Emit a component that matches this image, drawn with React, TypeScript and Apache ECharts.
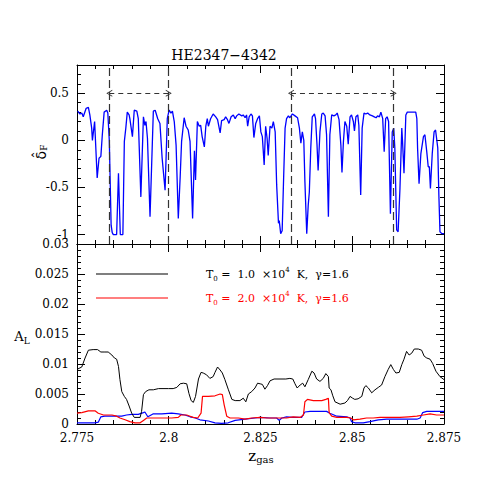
import React, { useEffect, useRef } from 'react';
import * as echarts from 'echarts';

const X_MIN = 2.775;
const X_MAX = 2.875;
const X_INTERVAL = 0.025;

const FLUX_MIN = -1.1;
const FLUX_MAX = 0.8;
const FLUX_TICKS = [-1, -0.5, 0, 0.5];

const AL_MIN = 0;
const AL_MAX = 0.03;
const AL_INTERVAL = 0.005;

// window edges (dashed verticals) and arrow spans
const windowEdges = [2.7838, 2.8, 2.8333, 2.8613];
const arrowSpans: [number, number][] = [[2.7838, 2.8], [2.8333, 2.8613]];
const arrowLevel = 0.5;

const title = 'HE2347−4342';
const legendLabels = ['1.0', '2.0'];

// normalised flux, blue curve (z, delta_F)
const fluxPoints: [number, number][] = [
  [2.7752,0.31],[2.7758,0.28],[2.7763,0.29],[2.7767,0.25],[2.7775,0.34],[2.7781,0.35],[2.7785,0.27],[2.7790,0.13],[2.7792,0.0],[2.7798,0.2],
  [2.7805,-0.40],[2.7810,-0.19],[2.7815,-0.17],[2.7819,0.06],[2.7824,0.30],[2.7831,0.32],[2.7834,0.29],[2.7838,0.0],[2.7843,-0.90],[2.7846,-0.98],
  [2.7849,-1.0],[2.7858,-1.0],[2.7863,-0.35],[2.7868,-1.0],[2.7875,-1.0],[2.7879,-0.01],[2.7883,0.13],[2.7887,0.30],[2.7892,0.27],[2.7894,0.23],
  [2.7901,0.04],[2.7906,0.32],[2.7913,0.31],[2.7917,0.23],[2.7924,-0.60],[2.7931,0.25],[2.7935,0.16],[2.7938,0.20],[2.7942,0.02],[2.7949,-0.81],
  [2.7958,0.31],[2.7963,0.32],[2.7970,0.23],[2.7976,0.18],[2.7982,-0.19],[2.7990,-0.53],[2.7996,0.23],[2.8001,0.32],[2.8006,0.29],[2.8010,0.31],
  [2.8015,0.20],[2.8020,-0.05],[2.8026,-0.83],[2.8031,-0.40],[2.8035,-0.01],[2.8042,0.24],[2.8047,0.15],[2.8053,0.11],[2.8058,-0.01],[2.8065,-0.83],
  [2.8070,-0.11],[2.8073,-0.42],[2.8078,0.20],[2.8083,0.15],[2.8087,0.16],[2.8091,0.04],[2.8097,-0.07],[2.8101,0.15],[2.8105,0.23],[2.8108,0.15],
  [2.8114,0.23],[2.8121,0.28],[2.8128,0.25],[2.8133,0.22],[2.8140,0.08],[2.8144,0.21],[2.8151,0.22],[2.8155,0.25],[2.8160,0.22],[2.8164,0.18],
  [2.8170,0.25],[2.8176,0.27],[2.8181,0.23],[2.8185,0.26],[2.8191,0.28],[2.8199,0.26],[2.8203,0.27],[2.8208,0.24],[2.8212,0.27],[2.8215,0.15],
  [2.8219,0.25],[2.8224,0.28],[2.8228,0.26],[2.8232,0.03],[2.8237,0.18],[2.8242,0.23],[2.8247,0.26],[2.8251,0.09],[2.8255,0.04],[2.8260,-0.26],
  [2.8264,0.15],[2.8268,0.02],[2.8271,-0.16],[2.8276,0.15],[2.8281,0.13],[2.8285,0.20],[2.8290,0.09],[2.8294,-0.47],[2.8299,-0.88],[2.8301,-0.85],
  [2.8305,-0.99],[2.8309,-0.96],[2.8313,-0.40],[2.8317,0.13],[2.8321,0.23],[2.8326,0.26],[2.8330,0.24],[2.8337,0.28],[2.8344,0.26],[2.8351,0.24],
  [2.8356,0.13],[2.8360,-0.03],[2.8364,0.09],[2.8368,0.0],[2.8371,-0.44],[2.8376,-0.99],[2.8380,-0.69],[2.8383,-0.55],[2.8387,-0.08],[2.8391,0.25],
  [2.8397,0.28],[2.8400,0.23],[2.8404,-0.05],[2.8407,-0.32],[2.8412,0.09],[2.8417,0.28],[2.8421,0.29],[2.8426,0.26],[2.8430,0.06],[2.8435,-0.81],
  [2.8439,0.06],[2.8444,0.27],[2.8450,0.26],[2.8455,0.27],[2.8459,0.29],[2.8464,0.22],[2.8469,-0.05],[2.8472,-0.34],[2.8476,-0.01],[2.8480,0.20],
  [2.8485,0.15],[2.8489,-0.04],[2.8494,0.25],[2.8498,0.27],[2.8503,0.20],[2.8506,0.10],[2.8510,0.25],[2.8515,0.27],[2.8518,0.16],[2.8523,-0.58],
  [2.8527,0.13],[2.8532,0.29],[2.8537,0.28],[2.8542,0.29],[2.8548,0.27],[2.8555,0.26],[2.8560,0.25],[2.8565,0.24],[2.8569,0.26],[2.8574,0.25],
  [2.8578,0.30],[2.8583,0.23],[2.8587,-0.12],[2.8591,0.23],[2.8595,0.25],[2.8599,0.20],[2.8604,-0.78],[2.8609,0.09],[2.8613,0.13],[2.8616,-0.08],
  [2.8621,-0.95],[2.8625,-0.97],[2.8630,-0.51],[2.8635,0.13],[2.8637,-0.01],[2.8641,-0.35],[2.8646,0.27],[2.8650,0.30],[2.8657,0.30],[2.8666,0.30],
  [2.8673,0.30],[2.8676,0.23],[2.8678,-0.08],[2.8682,-0.46],[2.8687,-0.14],[2.8694,0.04],[2.8698,0.06],[2.8703,-0.12],[2.8707,-0.28],[2.8710,-0.28],
  [2.8713,-0.51],[2.8718,-0.14],[2.8723,0.09],[2.8727,0.11],[2.8733,-0.08],[2.8736,-0.58],[2.8739,-0.97],[2.8744,-0.99],[2.8750,-0.99],
];

// A_L for T0 = 1.0e4 K (black)
const alCold: [number, number][] = [
  [2.775,0.0091],[2.7763,0.0095],[2.7772,0.0110],[2.7781,0.0123],[2.7794,0.0124],[2.7806,0.0124],[2.7815,0.0120],[2.7826,0.0120],[2.7835,0.0120],
  [2.7845,0.0115],[2.7852,0.0110],[2.7858,0.0108],[2.7863,0.0096],[2.7867,0.0074],[2.7872,0.0054],[2.7879,0.0046],[2.7885,0.0041],[2.7892,0.0030],
  [2.7899,0.0018],[2.7906,0.0011],[2.7922,0.0011],[2.7926,0.0021],[2.7931,0.0049],[2.7937,0.0054],[2.7946,0.0057],[2.7958,0.0057],[2.7972,0.0059],
  [2.7999,0.0059],[2.8012,0.0059],[2.8022,0.0061],[2.8031,0.0067],[2.8040,0.0068],[2.8049,0.0067],[2.8055,0.0051],[2.8061,0.0039],[2.8067,0.0036],
  [2.8073,0.0046],[2.8081,0.0075],[2.8088,0.0086],[2.8094,0.0085],[2.8103,0.0082],[2.8112,0.0076],[2.8121,0.0079],[2.8126,0.0086],[2.8133,0.0095],
  [2.8140,0.0090],[2.8146,0.0085],[2.8153,0.0074],[2.8162,0.0058],[2.8172,0.0041],[2.8181,0.0039],[2.8194,0.0039],[2.8203,0.0043],[2.8210,0.0037],
  [2.8217,0.0050],[2.8226,0.0054],[2.8235,0.0060],[2.8242,0.0068],[2.8249,0.0067],[2.8255,0.0066],[2.8262,0.0058],[2.8269,0.0064],[2.8276,0.0072],
  [2.8287,0.0075],[2.8319,0.0075],[2.8330,0.0076],[2.8338,0.0075],[2.8344,0.0067],[2.8350,0.0060],[2.8358,0.0065],[2.8365,0.0068],[2.8371,0.0062],
  [2.8380,0.0074],[2.8390,0.0088],[2.8396,0.0085],[2.8403,0.0075],[2.8412,0.0071],[2.8421,0.0076],[2.8428,0.0084],[2.8435,0.0079],[2.8437,0.0060],
  [2.8442,0.0057],[2.8447,0.0047],[2.8453,0.0037],[2.8467,0.0033],[2.8480,0.0035],[2.8487,0.0039],[2.8494,0.0046],[2.8501,0.0043],[2.8507,0.0041],
  [2.8516,0.0042],[2.8526,0.0046],[2.8532,0.0060],[2.8537,0.0064],[2.8544,0.0060],[2.8553,0.0052],[2.8562,0.0057],[2.8571,0.0061],[2.8580,0.0065],
  [2.8589,0.0079],[2.8598,0.0091],[2.8605,0.0099],[2.8612,0.0091],[2.8619,0.0085],[2.8628,0.0086],[2.8635,0.0099],[2.8641,0.0108],[2.8648,0.0121],
  [2.8655,0.0115],[2.8662,0.0118],[2.8669,0.0125],[2.8680,0.0125],[2.8689,0.0123],[2.8696,0.0113],[2.8703,0.0110],[2.8712,0.0108],[2.8719,0.0101],
  [2.8728,0.0088],[2.8739,0.0079],[2.8750,0.0074],
];

// A_L for T0 = 2.0e4 K (red)
const alHot: [number, number][] = [
  [2.775,0.0018],[2.7763,0.0019],[2.7781,0.0022],[2.7799,0.0022],[2.7808,0.0018],[2.7822,0.0015],[2.7845,0.0015],[2.7858,0.0013],[2.7867,0.0010],
  [2.7881,0.0007],[2.7894,0.0004],[2.7908,0.0002],[2.7922,0.0002],[2.7931,0.0006],[2.7940,0.0010],[2.8008,0.0010],[2.8026,0.0011],[2.8033,0.0015],
  [2.8049,0.0015],[2.8058,0.0013],[2.8067,0.0011],[2.8079,0.0010],[2.8088,0.0018],[2.8092,0.0046],[2.8108,0.0046],[2.8126,0.0047],[2.8140,0.0050],
  [2.8146,0.0049],[2.8151,0.0032],[2.8158,0.0013],[2.8167,0.0010],[2.8190,0.0010],[2.8208,0.0008],[2.8226,0.0010],[2.8249,0.0011],[2.8267,0.0010],
  [2.8321,0.0010],[2.8339,0.0012],[2.8358,0.0011],[2.8367,0.0015],[2.8371,0.0037],[2.8378,0.0041],[2.8394,0.0039],[2.8417,0.0039],[2.8428,0.0041],
  [2.8435,0.0043],[2.8437,0.0019],[2.8444,0.0013],[2.8458,0.0011],[2.8485,0.0011],[2.8496,0.0010],[2.8503,0.0007],[2.8521,0.0008],[2.8539,0.0010],
  [2.8557,0.0010],[2.8576,0.0011],[2.8630,0.0011],[2.8653,0.0012],[2.8676,0.0013],[2.8694,0.0015],[2.8712,0.0017],[2.8730,0.0015],[2.8750,0.0015],
];

// third (blue) A_L curve
const alBlue: [number, number][] = [
  [2.775,0.0002],[2.7799,0.0002],[2.7808,0.0003],[2.7815,0.0012],[2.7826,0.0013],[2.7872,0.0013],[2.7885,0.0015],[2.7899,0.0016],[2.7917,0.0016],
  [2.7931,0.0019],[2.7935,0.0020],[2.7943,0.0012],[2.7952,0.0015],[2.7958,0.0017],[2.7981,0.0017],[2.8008,0.0018],[2.8026,0.0017],[2.8044,0.0015],
  [2.8058,0.0012],[2.8072,0.0010],[2.8085,0.0007],[2.8108,0.0005],[2.8126,0.0002],[2.8144,0.0001],[2.8162,0.0002],[2.8181,0.0006],[2.8208,0.0008],
  [2.8235,0.0010],[2.8249,0.0011],[2.8276,0.0010],[2.8294,0.0010],[2.8301,0.0006],[2.8308,0.0010],[2.8321,0.0012],[2.8339,0.0011],[2.8362,0.0011],
  [2.8371,0.0020],[2.8385,0.0021],[2.8430,0.0021],[2.8439,0.0018],[2.8458,0.0013],[2.8485,0.0012],[2.8494,0.0010],[2.8498,0.0004],[2.8507,0.0002],
  [2.8530,0.0002],[2.8548,0.0004],[2.8571,0.0007],[2.8594,0.0008],[2.8676,0.0008],[2.8685,0.0010],[2.8692,0.0019],[2.8703,0.0021],[2.8750,0.0021],
];

const FONT = '"DejaVu Serif", serif';
const CHEVRON = 'path://M0,10 L5,0 L10,10 L8.6,10 L5,2.6 L1.4,10 Z';

export default function App() {
  const ref = useRef<HTMLDivElement>(null);

  useEffect(() => {
    if (!ref.current) return;
    const chart = echarts.init(ref.current, null, { renderer: 'svg' });

    const axisLine = { show: true, onZero: false, lineStyle: { color: '#000', width: 1 } };
    const tickStyle = { color: '#000', width: 1 };
    const labelStyle = { color: '#000', fontFamily: FONT, fontSize: 12 };

    const xAxis = (grid: number, pos: string, labels: boolean) => ({
      type: 'value', gridIndex: grid, position: pos, min: X_MIN, max: X_MAX, interval: X_INTERVAL,
      axisLine, splitLine: { show: false },
      axisTick: { show: true, inside: true, length: 8, lineStyle: tickStyle },
      minorTick: { show: true, splitNumber: 5, length: 4, lineStyle: tickStyle },
      axisLabel: labels ? { show: true, margin: 8, ...labelStyle } : { show: false },
    });

    const fluxMinor = (pos: string, labels: boolean) => ({
      type: 'value', gridIndex: 0, position: pos, min: FLUX_MIN, max: FLUX_MAX, interval: 0.1,
      axisLine, splitLine: { show: false },
      axisTick: { show: true, inside: true, length: 4, lineStyle: tickStyle },
      axisLabel: labels ? {
        show: true, margin: 8, ...labelStyle,
        formatter: (v: number) => {
          const h = v * 2;
          return Math.abs(h - Math.round(h)) < 1e-6 ? String(Math.round(h) / 2) : '';
        },
      } : { show: false },
    });
    const fluxMajor = (pos: string) => ({
      type: 'value', gridIndex: 0, position: pos, min: FLUX_MIN, max: FLUX_MAX,
      axisLine: { show: false }, splitLine: { show: false },
      axisTick: { show: true, inside: true, length: 8, lineStyle: tickStyle, customValues: FLUX_TICKS },
      axisLabel: { show: false },
    });
    const alAxis = (pos: string, labels: boolean) => ({
      type: 'value', gridIndex: 1, position: pos, min: AL_MIN, max: AL_MAX, interval: AL_INTERVAL,
      axisLine, splitLine: { show: false },
      axisTick: { show: true, inside: true, length: 8, lineStyle: tickStyle },
      minorTick: { show: true, splitNumber: 5, length: 4, lineStyle: tickStyle },
      axisLabel: labels ? { show: true, margin: 8, ...labelStyle } : { show: false },
    });

    const legendRich = {
      m: { fontFamily: FONT, fontSize: 11, lineHeight: 16, verticalAlign: 'middle' },
      s: { fontFamily: FONT, fontSize: 7, lineHeight: 7, verticalAlign: 'bottom' },
      p: { fontFamily: FONT, fontSize: 7, lineHeight: 7, verticalAlign: 'top' },
    };
    const legendText = (t: string) => `{m|T}{s|0}{m| =  ${t}  ×10}{p|4}{m|  K,  γ=1.6}`;

    chart.setOption({
      animation: false,
      backgroundColor: '#fff',
      grid: [
        { left: 77, top: 65, width: 367, height: 179 },
        { left: 77, top: 244, width: 367, height: 180 },
      ],
      xAxis: [xAxis(0, 'bottom', false), xAxis(0, 'top', false), xAxis(1, 'bottom', true), xAxis(1, 'top', false)],
      yAxis: [
        fluxMinor('left', true), fluxMajor('left'), fluxMinor('right', false), fluxMajor('right'),
        alAxis('left', true), alAxis('right', false),
      ],
      series: [
        {
          type: 'line', name: 'flux', xAxisIndex: 0, yAxisIndex: 0, data: fluxPoints,
          showSymbol: false, lineStyle: { color: '#0000ff', width: 1.3 }, z: 3,
          markLine: {
            silent: true, precision: 5, symbol: ['none', 'none'], label: { show: false },
            lineStyle: { color: '#333', type: [8, 4], width: 1.2 },
            data: [
              ...windowEdges.map((v) => ({ xAxis: v })),
              ...arrowSpans.map(([a, b]) => [
                { coord: [a, arrowLevel], symbol: CHEVRON, symbolSize: [7, 6], lineStyle: { type: [5, 4], width: 1 } },
                { coord: [b, arrowLevel], symbol: CHEVRON, symbolSize: [7, 6] },
              ]),
            ],
          },
        },
        {
          type: 'line', name: 'blue', xAxisIndex: 2, yAxisIndex: 4, data: alBlue,
          showSymbol: false, lineStyle: { color: '#0000ff', width: 1.2 },
        },
        {
          type: 'line', name: 'T0 = 2.0', xAxisIndex: 2, yAxisIndex: 4, data: alHot,
          showSymbol: false, lineStyle: { color: '#ff0000', width: 1.2 },
        },
        {
          type: 'line', name: 'T0 = 1.0', xAxisIndex: 2, yAxisIndex: 4, data: alCold,
          showSymbol: false, lineStyle: { color: '#000', width: 1 },
        },
      ],
      graphic: [
        { type: 'text', x: 224, y: 55, style: { text: title, font: `14px ${FONT}`, fill: '#000', align: 'center', verticalAlign: 'middle' } },
        { type: 'line', shape: { x1: 96, y1: 274, x2: 168, y2: 274 }, style: { stroke: '#000', lineWidth: 1.2 } },
        { type: 'line', shape: { x1: 96, y1: 298, x2: 168, y2: 298 }, style: { stroke: '#ff0000', lineWidth: 1.2 } },
        { type: 'text', x: 206, y: 274, style: { text: legendText(legendLabels[0]), rich: legendRich, fill: '#000', verticalAlign: 'middle' } },
        { type: 'text', x: 206, y: 298, style: { text: legendText(legendLabels[1]), rich: legendRich, fill: '#ff0000', verticalAlign: 'middle' } },
        {
          type: 'text', x: 38, y: 152, rotation: Math.PI / 2,
          style: {
            text: '{a|δ̂}{s|F}', align: 'center', verticalAlign: 'middle', fill: '#000',
            rich: {
              a: { fontFamily: '"DejaVu Sans", sans-serif', fontSize: 14, lineHeight: 20, verticalAlign: 'bottom' },
              s: { fontFamily: FONT, fontSize: 9, lineHeight: 9, verticalAlign: 'bottom' },
            },
          },
        },
        {
          type: 'text', x: 22, y: 336,
          style: {
            text: '{a|A}{s|L}', align: 'center', verticalAlign: 'middle', fill: '#000',
            rich: {
              a: { fontFamily: FONT, fontSize: 13, lineHeight: 18, verticalAlign: 'middle' },
              s: { fontFamily: FONT, fontSize: 9, lineHeight: 9, verticalAlign: 'bottom' },
            },
          },
        },
        {
          type: 'text', x: 261, y: 456,
          style: {
            text: '{a|z}{s|gas}', align: 'center', verticalAlign: 'middle', fill: '#000',
            rich: {
              a: { fontFamily: FONT, fontSize: 15, lineHeight: 16, verticalAlign: 'middle' },
              s: { fontFamily: FONT, fontSize: 10, lineHeight: 10, verticalAlign: 'bottom' },
            },
          },
        },
      ],
    });

    return () => chart.dispose();
  }, []);

  return (
    <div
      ref={ref}
      style={{ position: 'fixed', left: 0, top: 0, width: 501, height: 501, background: '#fff' }}
    />
  );
}
